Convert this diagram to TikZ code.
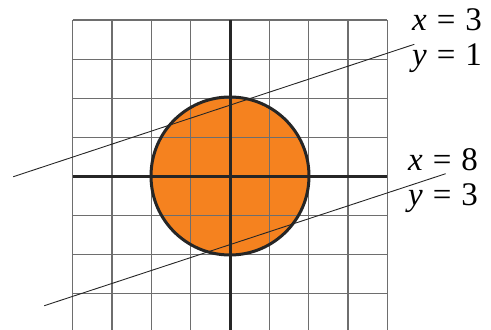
\documentclass[tikz,border=0pt]{standalone}
\usepackage{fontspec}
\setmainfont{Liberation Serif}
\definecolor{discorange}{HTML}{F5821F}
\definecolor{gridgray}{HTML}{6E6E6E}
\newcommand{\eqgap}{\hspace{10pt}}
\begin{document}
\begin{tikzpicture}[x=1pt,y=-1pt,
  gridline/.style={draw=gridgray,line width=1.1pt},
  axisline/.style={draw=black!85,line width=3pt},
  rimline/.style={draw=black!85,line width=3pt},
  chord/.style={draw=black!85,line width=0.9pt},
  eqlabel/.style={inner sep=0pt,anchor=base west,font=\fontsize{33}{33}\selectfont}]
\useasboundingbox (0,0) rectangle (491,330);
% disc fill
\fill[discorange] (230,176) circle (79);
% grid
\foreach \k in {0,...,8} {
  \draw[gridline] ({72.7+39.33*\k},20) -- ({72.7+39.33*\k},330);
}
\foreach \k in {0,...,7} {
  \draw[gridline] (72.7,{20+39.1*\k}) -- (387.3,{20+39.1*\k});
}
% axes
\draw[axisline] (230,20) -- (230,330);
\draw[axisline] (72.7,176) -- (387.3,176);
% rim
\draw[rimline] (230,176) circle (79);
% chords
\coordinate (a1) at (13.3,176.7);
\coordinate (a2) at (414.3,44.3);
\coordinate (b1) at (44.3,305.7);
\coordinate (b2) at (445.7,173.7);
\draw[chord] (a1) -- (a2);
\draw[chord] (b1) -- (b2);
% labels
\node[eqlabel] (x3) at (412,30) {\textit{x}\eqgap=\eqgap3};
\node[eqlabel] (y1) at (412,65) {\textit{y}\eqgap=\eqgap1};
\node[eqlabel] (x8) at (408,170) {\textit{x}\eqgap=\eqgap8};
\node[eqlabel] (y3) at (408,205) {\textit{y}\eqgap=\eqgap3};
\end{tikzpicture}
\end{document}
